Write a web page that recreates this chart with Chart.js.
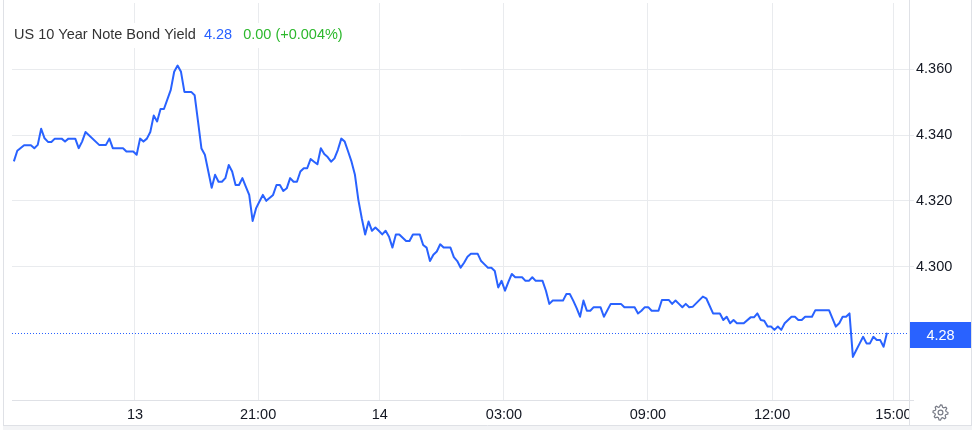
<!DOCTYPE html>
<html>
<head>
<meta charset="utf-8">
<script src="https://cdn.jsdelivr.net/npm/chart.js@4.4.1/dist/chart.umd.min.js"></script>
<style>
  html, body { margin: 0; padding: 0; background: #ffffff; }
  #wrap { width: 974px; height: 430px; position: relative; }
</style>
</head>
<body>
<div id="wrap"><canvas id="c" width="974" height="430"></canvas></div>
<script>
// ---- data (bar index of 5-minute bars, yield %) ----
const bars = [0,1,3,5,6,7,8,9,10,11,12,14,15,16,18,19,20,21,25,27,28,29,32,33,35,36,37,38,39,40,41,42,43,44,46,47,48,49,50,52,53,54,55,56,58,59,60,61,62,63,64,65,66,67,68,69,70,71,72,73,74,76,77,78,79,80,81,82,83,84,85,86,87,88,89,90,91,92,93,94,95,96,97,98,99,100,101,102,103,104,105,106,107,108,109,110,111,112,113,114,115,116,117,119,120,121,122,123,124,125,126,128,129,130,131,132,133,134,136,137,138,139,140,141,142,143,144,145,146,147,149,150,151,152,153,155,156,157,158,161,162,163,164,165,166,167,168,169,170,172,173,175,178,179,182,183,184,185,186,187,189,190,192,193,194,195,196,197,198,199,202,203,205,207,208,209,210,211,212,214,216,217,218,219,220,221,222,223,224,225,226,227,228,229,230,231,232,234,235,239,240,241,242,243,244,245,246,247,248,249,250,251,252,253,254,255,256];
const yields = [4.3320,4.3352,4.3369,4.3369,4.3360,4.3370,4.3419,4.3390,4.3379,4.3379,4.3389,4.3389,4.3380,4.3389,4.3389,4.3360,4.3380,4.3409,4.3370,4.3370,4.3389,4.3360,4.3360,4.3350,4.3350,4.3340,4.3389,4.3380,4.3389,4.3409,4.3459,4.3441,4.3479,4.3479,4.3537,4.3592,4.3611,4.3592,4.3531,4.3531,4.3521,4.3441,4.3359,4.3340,4.3240,4.3279,4.3258,4.3258,4.3269,4.3309,4.3289,4.3248,4.3248,4.3269,4.3243,4.3218,4.3139,4.3177,4.3198,4.3218,4.3200,4.3218,4.3248,4.3248,4.3230,4.3238,4.3269,4.3258,4.3258,4.3289,4.3299,4.3299,4.3327,4.3319,4.3311,4.3360,4.3342,4.3333,4.3319,4.3329,4.3355,4.3389,4.3380,4.3350,4.3319,4.3279,4.3203,4.3147,4.3098,4.3137,4.3109,4.3119,4.3109,4.3098,4.3109,4.3091,4.3058,4.3098,4.3098,4.3088,4.3078,4.3078,4.3098,4.3098,4.3066,4.3058,4.3017,4.3036,4.3046,4.3068,4.3058,4.3058,4.3029,4.3017,4.2997,4.3012,4.3030,4.3039,4.3039,4.3017,4.3007,4.2997,4.2997,4.2987,4.2937,4.2957,4.2927,4.2954,4.2978,4.2968,4.2968,4.2957,4.2957,4.2968,4.2957,4.2957,4.2927,4.2887,4.2897,4.2897,4.2917,4.2917,4.2897,4.2874,4.2848,4.2897,4.2866,4.2866,4.2877,4.2877,4.2848,4.2887,4.2887,4.2877,4.2877,4.2858,4.2866,4.2877,4.2877,4.2866,4.2866,4.2899,4.2899,4.2887,4.2897,4.2887,4.2877,4.2887,4.2877,4.2878,4.2909,4.2904,4.2858,4.2858,4.2838,4.2848,4.2828,4.2838,4.2828,4.2828,4.2846,4.2846,4.2858,4.2838,4.2836,4.2818,4.2818,4.2808,4.2818,4.2808,4.2828,4.2838,4.2848,4.2848,4.2838,4.2838,4.2848,4.2848,4.2868,4.2868,4.2843,4.2818,4.2828,4.2848,4.2848,4.2858,4.2726,4.2747,4.2767,4.2787,4.2767,4.2767,4.2787,4.2777,4.2777,4.2757,4.2799];

const xTickBars   = [35.5, 71.6, 107.3, 143.7, 185.9, 222.3, 257.9];
const xTickLabels = ['13', '21:00', '14', '03:00', '09:00', '12:00', '15:00'];
const yTickValues = [4.30, 4.32, 4.34, 4.36];

const titleText  = 'US 10 Year Note Bond Yield';
const lastPrice  = 4.28;
const lastLabel  = '4.28';
const changeText = '0.00 (+0.004%)';

// ---- styles ----
const FONT = '"Liberation Sans", Arial, sans-serif';
const BLUE = '#2962ff';
const GRID = '#e9ebee';
const BORDER = '#dfe1e6';
const TEXT = '#131722';

const points = bars.map((b, i) => ({ x: b, y: yields[i] }));

const chromePlugin = {
  id: 'chrome',
  beforeDraw(chart) {
    const ctx = chart.ctx;
    ctx.save();
    ctx.fillStyle = '#ffffff';
    ctx.fillRect(0, 0, chart.width, chart.height);
    ctx.restore();
  },
  beforeDatasetsDraw(chart) {
    const { ctx, chartArea, scales } = chart;
    const py = Math.round(scales.y.getPixelForValue(lastPrice)) + 0.5;
    ctx.save();
    ctx.strokeStyle = BLUE;
    ctx.lineWidth = 1;
    ctx.setLineDash([1, 2]);
    ctx.beginPath();
    ctx.moveTo(chartArea.left, py);
    ctx.lineTo(chartArea.right, py);
    ctx.stroke();
    ctx.restore();
  },
  afterDraw(chart) {
    const { ctx, chartArea, scales } = chart;
    ctx.save();
    // clip x labels at the price axis
    ctx.fillStyle = '#ffffff';
    ctx.fillRect(chartArea.right + 1, chartArea.bottom + 1, 62, 24);

    // title background and text
    ctx.fillStyle = '#ffffff';
    ctx.fillRect(10, 23, 345, 25);
    ctx.font = '14.5px ' + FONT;
    ctx.textBaseline = 'alphabetic';
    ctx.textAlign = 'left';
    let tx = 14;
    ctx.fillStyle = '#333333';
    ctx.fillText(titleText, tx, 39);
    tx += ctx.measureText(titleText).width + 8;
    ctx.fillStyle = BLUE;
    ctx.fillText(lastLabel, tx, 39);
    tx += ctx.measureText(lastLabel).width + 11;
    ctx.fillStyle = '#2db82d';
    ctx.fillText(changeText, tx, 39);

    // frame lines
    ctx.strokeStyle = BORDER;
    ctx.lineWidth = 1;
    ctx.beginPath();
    ctx.moveTo(chartArea.left, chartArea.bottom + 0.5);
    ctx.lineTo(chartArea.right + 5, chartArea.bottom + 0.5);
    ctx.moveTo(chartArea.right + 0.5, 0);
    ctx.lineTo(chartArea.right + 0.5, 425);
    ctx.moveTo(3.5, 0);
    ctx.lineTo(3.5, 425);
    ctx.moveTo(971.5, 0);
    ctx.lineTo(971.5, 425);
    ctx.moveTo(3, 425.5);
    ctx.lineTo(972, 425.5);
    ctx.stroke();
    ctx.fillStyle = '#f3f4f6';
    ctx.fillRect(3, 426, 969, 4);

    // last price label
    const py = scales.y.getPixelForValue(lastPrice);
    ctx.fillStyle = BLUE;
    ctx.fillRect(chartArea.right + 1, Math.round(py) - 11, 61, 26);
    ctx.fillStyle = '#ffffff';
    ctx.font = '14.5px ' + FONT;
    ctx.textAlign = 'center';
    ctx.textBaseline = 'middle';
    ctx.fillText(lastLabel, 940.5, Math.round(py) + 2.5);

    // gear icon
    const cx = 940.5, cy = 412.5, teeth = 8, rO = 7.5, rI = 5.6;
    ctx.strokeStyle = '#787b86';
    ctx.lineWidth = 1.2;
    ctx.beginPath();
    for (let i = 0; i < teeth * 4; i++) {
      const a = (i / (teeth * 4)) * Math.PI * 2;
      const r = (i % 4 === 0 || i % 4 === 1) ? rO : rI;
      const px = cx + r * Math.cos(a), pyy = cy + r * Math.sin(a);
      if (i === 0) ctx.moveTo(px, pyy); else ctx.lineTo(px, pyy);
    }
    ctx.closePath();
    ctx.stroke();
    ctx.beginPath();
    ctx.arc(cx, cy, 2.4, 0, Math.PI * 2);
    ctx.stroke();
    ctx.restore();
  }
};

new Chart(document.getElementById('c'), {
  type: 'line',
  data: {
    datasets: [{
      data: points,
      borderColor: BLUE,
      borderWidth: 2,
      pointRadius: 0,
      tension: 0,
      fill: false,
      borderJoinStyle: 'round'
    }]
  },
  options: {
    responsive: false,
    animation: false,
    devicePixelRatio: 1,
    layout: { padding: { left: 12, top: 3, right: 0, bottom: 0 } },
    plugins: { legend: { display: false }, tooltip: { enabled: false }, title: { display: false } },
    scales: {
      x: {
        type: 'linear',
        min: -0.55,
        max: 262.45,
        afterFit(scale) {
          scale.height = 30;
          scale.paddingLeft = 0; scale.paddingRight = 0;
          scale.paddingTop = 0; scale.paddingBottom = 0;
        },
        afterBuildTicks(scale) { scale.ticks = xTickBars.map(v => ({ value: v })); },
        grid: { color: GRID, drawTicks: false },
        border: { display: false },
        ticks: {
          autoSkip: false,
          maxRotation: 0,
          padding: 6,
          color: TEXT,
          font: { family: FONT, size: 14.5 },
          callback: (v, i) => xTickLabels[i]
        }
      },
      y: {
        type: 'linear',
        position: 'right',
        min: 4.2595,
        max: 4.3801,
        afterFit(scale) {
          scale.width = 65;
          scale.paddingTop = 0; scale.paddingBottom = 0;
          scale.paddingLeft = 0; scale.paddingRight = 0;
        },
        afterBuildTicks(scale) { scale.ticks = yTickValues.map(v => ({ value: v })); },
        grid: { color: GRID, drawTicks: true, tickLength: 5 },
        border: { display: false },
        ticks: {
          padding: 2,
          color: TEXT,
          font: { family: FONT, size: 14.5 },
          callback: v => Number(v).toFixed(3)
        }
      }
    }
  },
  plugins: [chromePlugin]
});
</script>
</body>
</html>
